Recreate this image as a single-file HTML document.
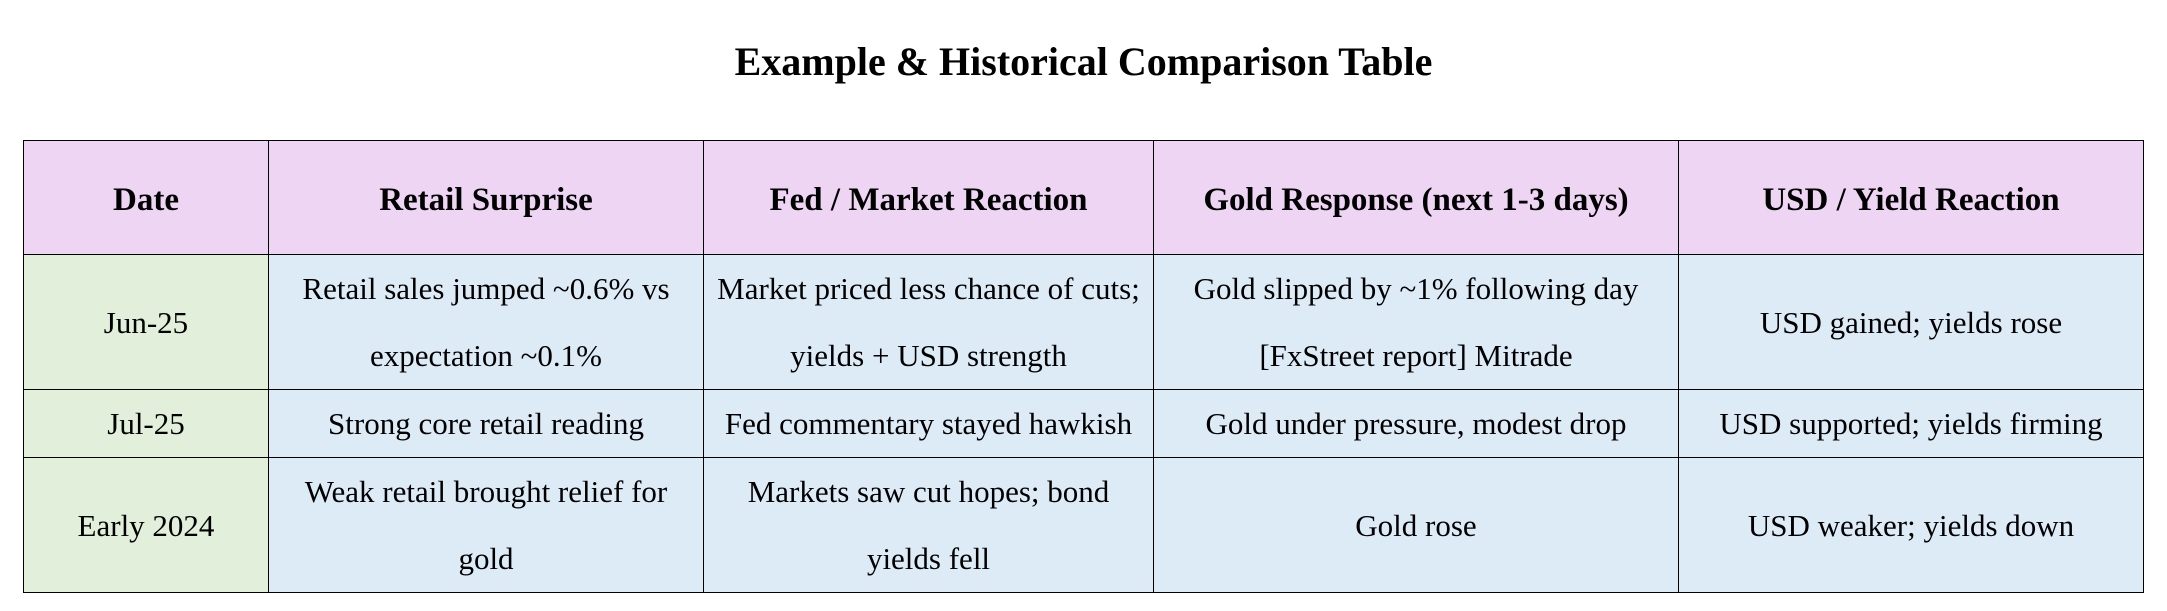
<!DOCTYPE html>
<html><head><meta charset="utf-8"><style>
html,body{margin:0;padding:0;background:#fff;}
body{width:2167px;height:611px;position:relative;overflow:hidden;font-family:"Liberation Serif",serif;color:#000;}
#title{position:absolute;left:0;width:2167px;top:36px;text-align:center;font-weight:bold;font-size:40px;line-height:52px;}
table{position:absolute;left:23px;top:140px;border-collapse:collapse;table-layout:fixed;width:2120px;}
td,th{border:1px solid #000;text-align:center;vertical-align:middle;padding:0 10px;font-size:31px;line-height:67px;}
th{background:#EED5F4;font-weight:bold;height:107px;font-size:33px;padding-top:6px;}
td.d{background:#E2EFDA;}
td.b{background:#DDEBF7;}
tr.r1 td{height:133px;}
tr.r2 td{height:66px;}
tr.r3 td{height:132px;}
</style></head><body>
<div id="title">Example &amp; Historical Comparison Table</div>
<table>
<colgroup><col style="width:245px"><col style="width:435px"><col style="width:450px"><col style="width:525px"><col style="width:465px"></colgroup>
<tr>
<th>Date</th>
<th>Retail Surprise</th>
<th>Fed / Market Reaction</th>
<th>Gold Response (next 1-3 days)</th>
<th>USD / Yield Reaction</th>
</tr>
<tr class="r1">
<td class="d">Jun-25</td>
<td class="b">Retail sales jumped ~0.6% vs<br>expectation ~0.1%</td>
<td class="b">Market priced less chance of cuts;<br>yields + USD strength</td>
<td class="b">Gold slipped by ~1% following day<br>[FxStreet report] Mitrade</td>
<td class="b">USD gained; yields rose</td>
</tr>
<tr class="r2">
<td class="d">Jul-25</td>
<td class="b">Strong core retail reading</td>
<td class="b">Fed commentary stayed hawkish</td>
<td class="b">Gold under pressure, modest drop</td>
<td class="b">USD supported; yields firming</td>
</tr>
<tr class="r3">
<td class="d">Early 2024</td>
<td class="b">Weak retail brought relief for<br>gold</td>
<td class="b">Markets saw cut hopes; bond<br>yields fell</td>
<td class="b">Gold rose</td>
<td class="b">USD weaker; yields down</td>
</tr>
</table>
</body></html>
